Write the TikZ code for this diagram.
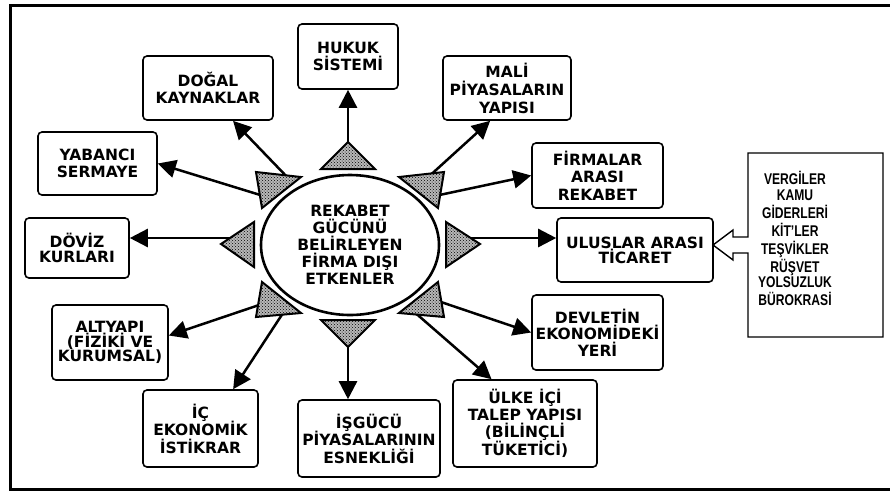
\documentclass[tikz,border=0pt]{standalone}
\usepackage{fontspec}
\usepackage{graphicx}
\newfontfamily\boxfont{DejaVu Sans}
\newfontfamily\libfont{Liberation Sans}
\usetikzlibrary{arrows.meta,patterns,calc,shapes.geometric}
\begin{document}
\begin{tikzpicture}[x=1pt,y=-1pt,
  box/.style={draw, line width=1.6pt, rounded corners=4pt, align=center, inner sep=0pt,
    font=\boxfont\bfseries\fontsize{15.5}{17.5}\selectfont},
  arr/.style={line width=2.5pt, -{Triangle[length=18pt,width=18pt]}},
  tri/.style={draw, line width=2pt, line join=miter, preaction={fill=black!28},
    pattern=crosshatch dots, pattern color=black},
  frame/.style={line width=3pt}
]
\useasboundingbox (0,0) rectangle (890,491);
\fill[white] (0,0) rectangle (890,491);
\draw[frame] (895,5.3) -- (10.5,5.3) -- (10.5,489.5) -- (895,489.5);

% centre
\node[draw, ellipse, line width=2.6pt, minimum width=178pt, minimum height=140pt, inner sep=0pt,
  align=center, font=\boxfont\bfseries\fontsize{15.5}{17}\selectfont] (core) at (350,245)
  {REKABET\\GÜCÜNÜ\\BELİRLEYEN\\FİRMA DIŞI\\ETKENLER};

% boxes
\node[box, minimum width=100pt, minimum height=65pt] (hukuk) at (348,56.5) {HUKUK\\SİSTEMİ};
\node[box, minimum width=130pt, minimum height=64pt] (dogal) at (208,88) {DOĞAL\\KAYNAKLAR};
\node[box, minimum width=119pt, minimum height=63pt] (yab) at (97.5,163.5) {YABANCI\\SERMAYE};
\node[box, minimum width=104pt, minimum height=60pt, font=\boxfont\bfseries\fontsize{15.5}{14.5}\selectfont] (doviz) at (77,248) {DÖVİZ\\KURLARI};
\node[box, minimum width=116pt, minimum height=75pt, font=\boxfont\bfseries\fontsize{15.5}{14.5}\selectfont] (alt) at (110,342.5) {ALTYAPI\\(FİZİKİ VE\\KURUMSAL)};
\node[box, minimum width=115pt, minimum height=77pt] (ic) at (200.5,428.5) {İÇ\\EKONOMİK\\İSTİKRAR};
\node[box, minimum width=142pt, minimum height=77pt] (isg) at (369,438.5) {İŞGÜCÜ\\PİYASALARININ\\ESNEKLİĞİ};
\node[box, minimum width=144pt, minimum height=87pt, font=\boxfont\bfseries\fontsize{15.5}{16.7}\selectfont] (ulke) at (525,423.5) {ÜLKE İÇİ\\TALEP YAPISI\\(BİLİNÇLİ\\TÜKETİCİ)};
\node[box, minimum width=131pt, minimum height=75pt, font=\boxfont\bfseries\fontsize{15.5}{16.5}\selectfont] (devlet) at (597.5,332.5) {DEVLETİN\\EKONOMİDEKİ\\YERİ};
\node[box, minimum width=156pt, minimum height=64pt, font=\boxfont\bfseries\fontsize{15.5}{15}\selectfont] (ulus) at (635,250) {ULUSLAR ARASI\\TİCARET};
\node[box, minimum width=131pt, minimum height=65pt] (firma) at (597.5,175.5) {FİRMALAR\\ARASI\\REKABET};
\node[box, minimum width=128pt, minimum height=64pt, font=\boxfont\bfseries\fontsize{15.5}{18}\selectfont] (mali) at (507,88) {MALİ\\PİYASALARIN\\YAPISI};

% callout box
\draw[line width=1.4pt, line join=miter] (748,153) -- (883,153) -- (883,337) -- (748,337) -- (748,253)
  -- (733,253) -- (733,260) -- (713,245) -- (733,230) -- (733,237) -- (748,237) -- cycle;
\node[inner sep=0pt, font=\libfont\bfseries\fontsize{15.5}{15.7}\selectfont] (vergi) at (795,241)
  {\scalebox{0.78}[1]{\begin{tabular}{@{}c@{}}VERGİLER\\KAMU\\GİDERLERİ\\KİT’LER\\TEŞVİKLER\\RÜŞVET\\YOLSUZLUK\\BÜROKRASİ\end{tabular}}};

% arrow start points
\coordinate (s-hukuk) at (348,150);
\coordinate (s-dogal) at (290,180);
\coordinate (s-yab) at (270,198);
\coordinate (s-doviz) at (240,238);
\coordinate (s-alt) at (268,302);
\coordinate (s-ic) at (285,310);
\coordinate (s-isg) at (348,335);
\coordinate (s-ulke) at (412,310);
\coordinate (s-devlet) at (435,300);
\coordinate (s-ulus) at (460,238);
\coordinate (s-firma) at (430,197);
\coordinate (s-mali) at (425,180);

\draw[arr] (s-hukuk) -- (hukuk.south);
\draw[arr] (s-dogal) -- ($(dogal.south west)!0.69!(dogal.south east)$);
\draw[arr] (s-yab) -- (yab.east);
\draw[arr] (s-doviz) -- (doviz.east |- s-doviz);
\draw[arr] (s-alt) -- ([yshift=7pt]alt.east);
\draw[arr] (s-ic) -- ($(ic.north west)!0.78!(ic.north east)$);
\draw[arr] (s-isg) -- (s-isg |- isg.north);
\draw[arr] (s-ulke) -- ($(ulke.north west)!0.27!(ulke.north east)$);
\draw[arr] (s-devlet) -- (devlet.west);
\draw[arr] (s-ulus) -- (ulus.west |- s-ulus);
\draw[arr] (s-firma) -- (firma.west);
\draw[arr] (s-mali) -- ($(mali.south west)!0.37!(mali.south east)$);

% triangles
\draw[tri] (348,142) -- (321,169) -- (375,169) -- cycle;
\draw[tri] (348,347) -- (321,320) -- (375,320) -- cycle;
\draw[tri] (221,244) -- (254,222) -- (254,267) -- cycle;
\draw[tri] (480,244) -- (446,222) -- (446,267) -- cycle;
\draw[tri] (256,172) -- (301,177) -- (262,208) -- cycle;
\draw[tri] (444,172) -- (399,177) -- (438,208) -- cycle;
\draw[tri] (256,317) -- (262,282) -- (301,313) -- cycle;
\draw[tri] (444,317) -- (438,282) -- (399,313) -- cycle;
\end{tikzpicture}
\end{document}
